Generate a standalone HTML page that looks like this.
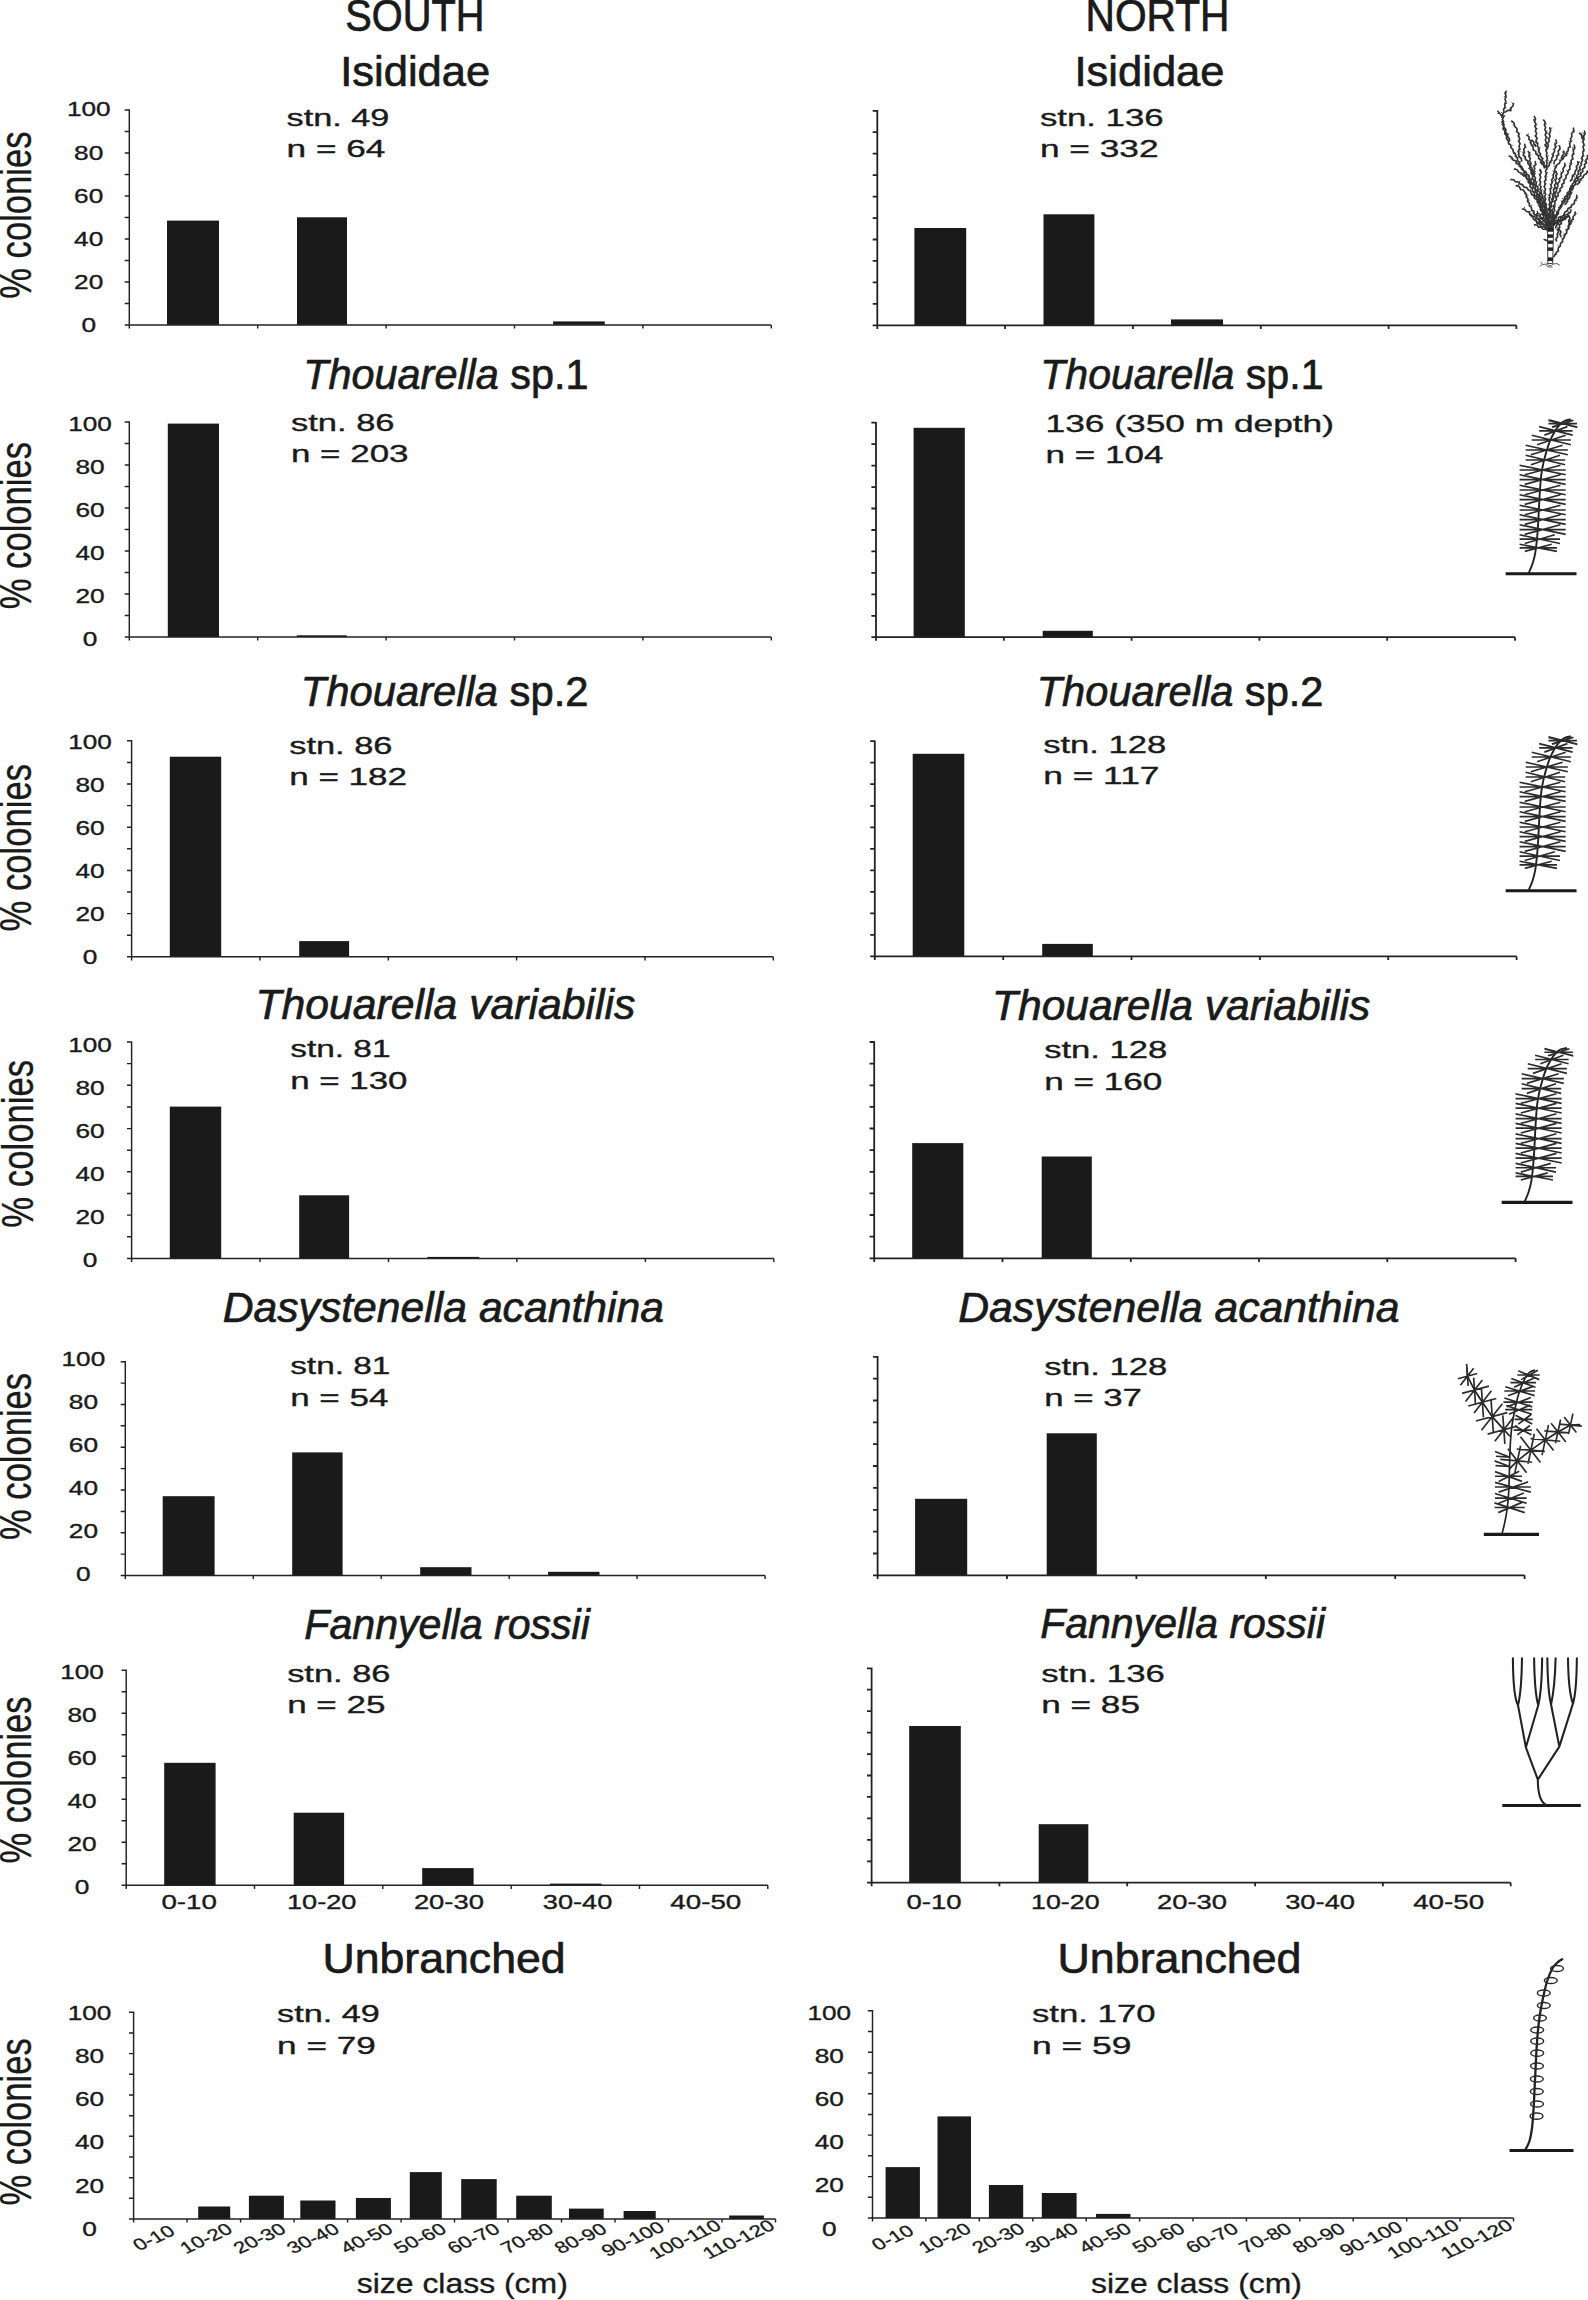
<!DOCTYPE html>
<html lang="en"><head><meta charset="utf-8"><title>Size class distributions</title>
<style>
html,body{margin:0;padding:0;background:#fff}
body{width:1588px;height:2300px;overflow:hidden;position:relative}
svg{position:absolute;left:0;top:0;display:block}
text{font-family:'Liberation Sans', sans-serif;stroke:#1a1a1a;stroke-width:0.35px;stroke-linejoin:round}
</style></head><body>
<svg width="1588" height="2300" viewBox="0 0 1588 2300">
<rect width="1588" height="2300" fill="#fff"/>
<rect x="167.0" y="220.6" width="52.0" height="104.3" fill="#1a1a1a"/>
<rect x="297.0" y="217.3" width="50.0" height="107.6" fill="#1a1a1a"/>
<rect x="553.1" y="321.4" width="51.7" height="3.5" fill="#1a1a1a"/>
<path d="M129.3 109.2V324.9H771.3M124.7 109.9H129.3M124.7 131.4H129.3M124.7 152.9H129.3M124.7 174.4H129.3M124.7 195.9H129.3M124.7 217.4H129.3M124.7 238.9H129.3M124.7 260.4H129.3M124.7 281.9H129.3M124.7 303.4H129.3M124.7 324.9H129.3M129.3 324.9v3.6M257.7 324.9v3.6M386.1 324.9v3.6M514.5 324.9v3.6M642.9 324.9v3.6M771.3 324.9v3.6" fill="none" stroke="#222" stroke-width="1.45"/>
<text x="88.7" y="116.4" font-size="19.7" text-anchor="middle" textLength="43.6" lengthAdjust="spacingAndGlyphs" fill="#1a1a1a">100</text>
<text x="88.7" y="159.6" font-size="19.7" text-anchor="middle" textLength="29.2" lengthAdjust="spacingAndGlyphs" fill="#1a1a1a">80</text>
<text x="88.7" y="202.8" font-size="19.7" text-anchor="middle" textLength="29.2" lengthAdjust="spacingAndGlyphs" fill="#1a1a1a">60</text>
<text x="88.7" y="246.0" font-size="19.7" text-anchor="middle" textLength="29.2" lengthAdjust="spacingAndGlyphs" fill="#1a1a1a">40</text>
<text x="88.7" y="289.2" font-size="19.7" text-anchor="middle" textLength="29.2" lengthAdjust="spacingAndGlyphs" fill="#1a1a1a">20</text>
<text x="88.7" y="332.4" font-size="19.7" text-anchor="middle" textLength="14.6" lengthAdjust="spacingAndGlyphs" fill="#1a1a1a">0</text>
<text x="31.0" y="298.8" font-size="44" textLength="167.4" lengthAdjust="spacingAndGlyphs" transform="rotate(-90 31.0 298.8)" fill="#1a1a1a">% colonies</text>
<rect x="167.8" y="423.6" width="51.2" height="213.4" fill="#1a1a1a"/>
<rect x="296.7" y="635.3" width="50.1" height="1.7" fill="#1a1a1a"/>
<path d="M129.3 421.3V637.0H771.3M124.7 422.0H129.3M124.7 443.5H129.3M124.7 465.0H129.3M124.7 486.5H129.3M124.7 508.0H129.3M124.7 529.5H129.3M124.7 551.0H129.3M124.7 572.5H129.3M124.7 594.0H129.3M124.7 615.5H129.3M124.7 637.0H129.3M129.3 637.0v3.6M257.7 637.0v3.6M386.1 637.0v3.6M514.5 637.0v3.6M642.9 637.0v3.6M771.3 637.0v3.6" fill="none" stroke="#222" stroke-width="1.45"/>
<text x="90.0" y="430.9" font-size="19.7" text-anchor="middle" textLength="43.6" lengthAdjust="spacingAndGlyphs" fill="#1a1a1a">100</text>
<text x="90.0" y="474.0" font-size="19.7" text-anchor="middle" textLength="29.2" lengthAdjust="spacingAndGlyphs" fill="#1a1a1a">80</text>
<text x="90.0" y="517.0" font-size="19.7" text-anchor="middle" textLength="29.2" lengthAdjust="spacingAndGlyphs" fill="#1a1a1a">60</text>
<text x="90.0" y="560.1" font-size="19.7" text-anchor="middle" textLength="29.2" lengthAdjust="spacingAndGlyphs" fill="#1a1a1a">40</text>
<text x="90.0" y="603.2" font-size="19.7" text-anchor="middle" textLength="29.2" lengthAdjust="spacingAndGlyphs" fill="#1a1a1a">20</text>
<text x="90.0" y="646.2" font-size="19.7" text-anchor="middle" textLength="14.6" lengthAdjust="spacingAndGlyphs" fill="#1a1a1a">0</text>
<text x="31.3" y="609.3" font-size="44" textLength="167.4" lengthAdjust="spacingAndGlyphs" transform="rotate(-90 31.3 609.3)" fill="#1a1a1a">% colonies</text>
<rect x="169.8" y="756.7" width="51.4" height="200.1" fill="#1a1a1a"/>
<rect x="299.2" y="941.1" width="49.9" height="15.7" fill="#1a1a1a"/>
<path d="M131.6 740.1V956.8H773.3M127.0 740.8H131.6M127.0 762.4H131.6M127.0 784.0H131.6M127.0 805.6H131.6M127.0 827.2H131.6M127.0 848.8H131.6M127.0 870.4H131.6M127.0 892.0H131.6M127.0 913.6H131.6M127.0 935.2H131.6M127.0 956.8H131.6M131.6 956.8v3.6M259.9 956.8v3.6M388.3 956.8v3.6M516.6 956.8v3.6M645.0 956.8v3.6M773.3 956.8v3.6" fill="none" stroke="#222" stroke-width="1.45"/>
<text x="90.0" y="749.2" font-size="19.7" text-anchor="middle" textLength="43.6" lengthAdjust="spacingAndGlyphs" fill="#1a1a1a">100</text>
<text x="90.0" y="792.2" font-size="19.7" text-anchor="middle" textLength="29.2" lengthAdjust="spacingAndGlyphs" fill="#1a1a1a">80</text>
<text x="90.0" y="835.2" font-size="19.7" text-anchor="middle" textLength="29.2" lengthAdjust="spacingAndGlyphs" fill="#1a1a1a">60</text>
<text x="90.0" y="878.3" font-size="19.7" text-anchor="middle" textLength="29.2" lengthAdjust="spacingAndGlyphs" fill="#1a1a1a">40</text>
<text x="90.0" y="921.3" font-size="19.7" text-anchor="middle" textLength="29.2" lengthAdjust="spacingAndGlyphs" fill="#1a1a1a">20</text>
<text x="90.0" y="964.3" font-size="19.7" text-anchor="middle" textLength="14.6" lengthAdjust="spacingAndGlyphs" fill="#1a1a1a">0</text>
<text x="31.3" y="931.4" font-size="44" textLength="167.4" lengthAdjust="spacingAndGlyphs" transform="rotate(-90 31.3 931.4)" fill="#1a1a1a">% colonies</text>
<rect x="169.8" y="1106.6" width="51.4" height="151.8" fill="#1a1a1a"/>
<rect x="299.2" y="1195.3" width="49.9" height="63.1" fill="#1a1a1a"/>
<rect x="427.3" y="1256.9" width="52.0" height="1.5" fill="#1a1a1a"/>
<path d="M131.6 1041.3V1258.4H773.8M127.0 1042.0H131.6M127.0 1063.6H131.6M127.0 1085.3H131.6M127.0 1106.9H131.6M127.0 1128.6H131.6M127.0 1150.2H131.6M127.0 1171.8H131.6M127.0 1193.5H131.6M127.0 1215.1H131.6M127.0 1236.8H131.6M127.0 1258.4H131.6M131.6 1258.4v3.6M260.0 1258.4v3.6M388.5 1258.4v3.6M516.9 1258.4v3.6M645.4 1258.4v3.6M773.8 1258.4v3.6" fill="none" stroke="#222" stroke-width="1.45"/>
<text x="90.0" y="1051.7" font-size="19.7" text-anchor="middle" textLength="43.6" lengthAdjust="spacingAndGlyphs" fill="#1a1a1a">100</text>
<text x="90.0" y="1094.7" font-size="19.7" text-anchor="middle" textLength="29.2" lengthAdjust="spacingAndGlyphs" fill="#1a1a1a">80</text>
<text x="90.0" y="1137.8" font-size="19.7" text-anchor="middle" textLength="29.2" lengthAdjust="spacingAndGlyphs" fill="#1a1a1a">60</text>
<text x="90.0" y="1180.8" font-size="19.7" text-anchor="middle" textLength="29.2" lengthAdjust="spacingAndGlyphs" fill="#1a1a1a">40</text>
<text x="90.0" y="1223.9" font-size="19.7" text-anchor="middle" textLength="29.2" lengthAdjust="spacingAndGlyphs" fill="#1a1a1a">20</text>
<text x="90.0" y="1266.9" font-size="19.7" text-anchor="middle" textLength="14.6" lengthAdjust="spacingAndGlyphs" fill="#1a1a1a">0</text>
<text x="32.7" y="1227.7" font-size="44" textLength="167.9" lengthAdjust="spacingAndGlyphs" transform="rotate(-90 32.7 1227.7)" fill="#1a1a1a">% colonies</text>
<rect x="162.7" y="1496.2" width="51.9" height="79.3" fill="#1a1a1a"/>
<rect x="292.2" y="1452.4" width="50.4" height="123.1" fill="#1a1a1a"/>
<rect x="420.2" y="1567.2" width="51.3" height="8.3" fill="#1a1a1a"/>
<rect x="548.1" y="1571.8" width="51.4" height="3.7" fill="#1a1a1a"/>
<path d="M125.3 1361.0V1575.5H765.1M120.7 1361.7H125.3M120.7 1383.1H125.3M120.7 1404.5H125.3M120.7 1425.8H125.3M120.7 1447.2H125.3M120.7 1468.6H125.3M120.7 1490.0H125.3M120.7 1511.4H125.3M120.7 1532.7H125.3M120.7 1554.1H125.3M120.7 1575.5H125.3M125.3 1575.5v3.6M253.3 1575.5v3.6M381.2 1575.5v3.6M509.2 1575.5v3.6M637.1 1575.5v3.6M765.1 1575.5v3.6" fill="none" stroke="#222" stroke-width="1.45"/>
<text x="83.4" y="1365.8" font-size="19.7" text-anchor="middle" textLength="43.6" lengthAdjust="spacingAndGlyphs" fill="#1a1a1a">100</text>
<text x="83.4" y="1408.9" font-size="19.7" text-anchor="middle" textLength="29.2" lengthAdjust="spacingAndGlyphs" fill="#1a1a1a">80</text>
<text x="83.4" y="1452.0" font-size="19.7" text-anchor="middle" textLength="29.2" lengthAdjust="spacingAndGlyphs" fill="#1a1a1a">60</text>
<text x="83.4" y="1495.1" font-size="19.7" text-anchor="middle" textLength="29.2" lengthAdjust="spacingAndGlyphs" fill="#1a1a1a">40</text>
<text x="83.4" y="1538.2" font-size="19.7" text-anchor="middle" textLength="29.2" lengthAdjust="spacingAndGlyphs" fill="#1a1a1a">20</text>
<text x="83.4" y="1581.3" font-size="19.7" text-anchor="middle" textLength="14.6" lengthAdjust="spacingAndGlyphs" fill="#1a1a1a">0</text>
<text x="31.3" y="1539.9" font-size="44" textLength="166.9" lengthAdjust="spacingAndGlyphs" transform="rotate(-90 31.3 1539.9)" fill="#1a1a1a">% colonies</text>
<rect x="164.2" y="1762.8" width="51.4" height="122.5" fill="#1a1a1a"/>
<rect x="293.7" y="1812.7" width="50.4" height="72.6" fill="#1a1a1a"/>
<rect x="422.2" y="1868.1" width="51.4" height="17.2" fill="#1a1a1a"/>
<rect x="550.0" y="1883.6" width="51.5" height="1.7" fill="#1a1a1a"/>
<path d="M126.2 1669.5V1885.3H767.8M121.6 1670.2H126.2M121.6 1691.7H126.2M121.6 1713.2H126.2M121.6 1734.7H126.2M121.6 1756.2H126.2M121.6 1777.8H126.2M121.6 1799.3H126.2M121.6 1820.8H126.2M121.6 1842.3H126.2M121.6 1863.8H126.2M121.6 1885.3H126.2M126.2 1885.3v3.6M254.5 1885.3v3.6M382.8 1885.3v3.6M511.2 1885.3v3.6M639.5 1885.3v3.6M767.8 1885.3v3.6" fill="none" stroke="#222" stroke-width="1.45"/>
<text x="82.1" y="1679.0" font-size="19.7" text-anchor="middle" textLength="43.6" lengthAdjust="spacingAndGlyphs" fill="#1a1a1a">100</text>
<text x="82.1" y="1722.1" font-size="19.7" text-anchor="middle" textLength="29.2" lengthAdjust="spacingAndGlyphs" fill="#1a1a1a">80</text>
<text x="82.1" y="1765.1" font-size="19.7" text-anchor="middle" textLength="29.2" lengthAdjust="spacingAndGlyphs" fill="#1a1a1a">60</text>
<text x="82.1" y="1808.2" font-size="19.7" text-anchor="middle" textLength="29.2" lengthAdjust="spacingAndGlyphs" fill="#1a1a1a">40</text>
<text x="82.1" y="1851.2" font-size="19.7" text-anchor="middle" textLength="29.2" lengthAdjust="spacingAndGlyphs" fill="#1a1a1a">20</text>
<text x="82.1" y="1894.3" font-size="19.7" text-anchor="middle" textLength="14.6" lengthAdjust="spacingAndGlyphs" fill="#1a1a1a">0</text>
<text x="31.3" y="1863.5" font-size="44" textLength="167.1" lengthAdjust="spacingAndGlyphs" transform="rotate(-90 31.3 1863.5)" fill="#1a1a1a">% colonies</text>
<text x="189.1" y="1909.4" font-size="19.7" text-anchor="middle" textLength="55.4" lengthAdjust="spacingAndGlyphs" fill="#1a1a1a">0-10</text>
<text x="321.7" y="1909.4" font-size="19.7" text-anchor="middle" textLength="69.5" lengthAdjust="spacingAndGlyphs" fill="#1a1a1a">10-20</text>
<text x="448.9" y="1909.4" font-size="19.7" text-anchor="middle" textLength="70.0" lengthAdjust="spacingAndGlyphs" fill="#1a1a1a">20-30</text>
<text x="577.6" y="1909.4" font-size="19.7" text-anchor="middle" textLength="69.5" lengthAdjust="spacingAndGlyphs" fill="#1a1a1a">30-40</text>
<text x="705.8" y="1909.4" font-size="19.7" text-anchor="middle" textLength="71.0" lengthAdjust="spacingAndGlyphs" fill="#1a1a1a">40-50</text>
<rect x="198.2" y="2206.5" width="32.0" height="12.5" fill="#1a1a1a"/>
<rect x="248.9" y="2195.7" width="35.0" height="23.3" fill="#1a1a1a"/>
<rect x="300.3" y="2200.5" width="35.2" height="18.5" fill="#1a1a1a"/>
<rect x="355.9" y="2198.0" width="35.0" height="21.0" fill="#1a1a1a"/>
<rect x="409.8" y="2172.1" width="32.0" height="46.9" fill="#1a1a1a"/>
<rect x="461.2" y="2179.1" width="35.5" height="39.9" fill="#1a1a1a"/>
<rect x="516.2" y="2195.7" width="35.6" height="23.3" fill="#1a1a1a"/>
<rect x="569.0" y="2208.6" width="34.7" height="10.4" fill="#1a1a1a"/>
<rect x="623.6" y="2211.0" width="32.1" height="8.0" fill="#1a1a1a"/>
<rect x="729.2" y="2215.5" width="34.7" height="3.5" fill="#1a1a1a"/>
<path d="M133.6 2011.6V2219.0H775.5M129.0 2012.3H133.6M129.0 2033.0H133.6M129.0 2053.6H133.6M129.0 2074.3H133.6M129.0 2095.0H133.6M129.0 2115.7H133.6M129.0 2136.3H133.6M129.0 2157.0H133.6M129.0 2177.7H133.6M129.0 2198.3H133.6M129.0 2219.0H133.6M133.6 2219.0v3.6M187.1 2219.0v3.6M240.6 2219.0v3.6M294.1 2219.0v3.6M347.6 2219.0v3.6M401.1 2219.0v3.6M454.5 2219.0v3.6M508.0 2219.0v3.6M561.5 2219.0v3.6M615.0 2219.0v3.6M668.5 2219.0v3.6M722.0 2219.0v3.6M775.5 2219.0v3.6" fill="none" stroke="#222" stroke-width="1.45"/>
<text x="89.6" y="2020.2" font-size="19.7" text-anchor="middle" textLength="43.6" lengthAdjust="spacingAndGlyphs" fill="#1a1a1a">100</text>
<text x="89.6" y="2063.3" font-size="19.7" text-anchor="middle" textLength="29.2" lengthAdjust="spacingAndGlyphs" fill="#1a1a1a">80</text>
<text x="89.6" y="2106.4" font-size="19.7" text-anchor="middle" textLength="29.2" lengthAdjust="spacingAndGlyphs" fill="#1a1a1a">60</text>
<text x="89.6" y="2149.4" font-size="19.7" text-anchor="middle" textLength="29.2" lengthAdjust="spacingAndGlyphs" fill="#1a1a1a">40</text>
<text x="89.6" y="2192.5" font-size="19.7" text-anchor="middle" textLength="29.2" lengthAdjust="spacingAndGlyphs" fill="#1a1a1a">20</text>
<text x="89.6" y="2235.6" font-size="19.7" text-anchor="middle" textLength="14.6" lengthAdjust="spacingAndGlyphs" fill="#1a1a1a">0</text>
<text x="31.3" y="2205.5" font-size="44" textLength="167.3" lengthAdjust="spacingAndGlyphs" transform="rotate(-90 31.3 2205.5)" fill="#1a1a1a">% colonies</text>
<rect x="914.4" y="228.0" width="51.8" height="97.3" fill="#1a1a1a"/>
<rect x="1043.5" y="214.3" width="50.9" height="111.0" fill="#1a1a1a"/>
<rect x="1171.0" y="319.4" width="52.0" height="5.9" fill="#1a1a1a"/>
<path d="M877.3 110.1V325.3H1516.4M872.7 110.8H877.3M872.7 132.2H877.3M872.7 153.7H877.3M872.7 175.1H877.3M872.7 196.6H877.3M872.7 218.1H877.3M872.7 239.5H877.3M872.7 260.9H877.3M872.7 282.4H877.3M872.7 303.9H877.3M872.7 325.3H877.3M877.3 325.3v3.6M1005.1 325.3v3.6M1132.9 325.3v3.6M1260.8 325.3v3.6M1388.6 325.3v3.6M1516.4 325.3v3.6" fill="none" stroke="#222" stroke-width="1.8"/>
<rect x="913.6" y="427.8" width="51.2" height="209.4" fill="#1a1a1a"/>
<rect x="1042.7" y="630.8" width="50.1" height="6.4" fill="#1a1a1a"/>
<path d="M876.0 422.0V637.2H1515.0M871.4 422.7H876.0M871.4 444.1H876.0M871.4 465.6H876.0M871.4 487.1H876.0M871.4 508.5H876.0M871.4 530.0H876.0M871.4 551.4H876.0M871.4 572.9H876.0M871.4 594.3H876.0M871.4 615.8H876.0M871.4 637.2H876.0M876.0 637.2v3.6M1003.8 637.2v3.6M1131.6 637.2v3.6M1259.4 637.2v3.6M1387.2 637.2v3.6M1515.0 637.2v3.6" fill="none" stroke="#222" stroke-width="1.8"/>
<rect x="912.7" y="753.8" width="51.6" height="202.6" fill="#1a1a1a"/>
<rect x="1042.2" y="943.9" width="50.6" height="12.5" fill="#1a1a1a"/>
<path d="M874.8 740.5V956.4H1516.6M870.2 741.2H874.8M870.2 762.7H874.8M870.2 784.2H874.8M870.2 805.8H874.8M870.2 827.3H874.8M870.2 848.8H874.8M870.2 870.3H874.8M870.2 891.8H874.8M870.2 913.4H874.8M870.2 934.9H874.8M870.2 956.4H874.8M874.8 956.4v3.6M1003.2 956.4v3.6M1131.5 956.4v3.6M1259.9 956.4v3.6M1388.2 956.4v3.6M1516.6 956.4v3.6" fill="none" stroke="#222" stroke-width="1.8"/>
<rect x="912.2" y="1143.1" width="51.1" height="115.2" fill="#1a1a1a"/>
<rect x="1041.7" y="1156.5" width="50.1" height="101.8" fill="#1a1a1a"/>
<path d="M874.2 1041.3V1258.3H1515.6M869.6 1042.0H874.2M869.6 1063.6H874.2M869.6 1085.3H874.2M869.6 1106.9H874.2M869.6 1128.5H874.2M869.6 1150.2H874.2M869.6 1171.8H874.2M869.6 1193.4H874.2M869.6 1215.0H874.2M869.6 1236.7H874.2M869.6 1258.3H874.2M874.2 1258.3v3.6M1002.5 1258.3v3.6M1130.8 1258.3v3.6M1259.0 1258.3v3.6M1387.3 1258.3v3.6M1515.6 1258.3v3.6" fill="none" stroke="#222" stroke-width="1.8"/>
<rect x="915.1" y="1498.8" width="52.1" height="76.5" fill="#1a1a1a"/>
<rect x="1046.7" y="1433.3" width="50.1" height="142.0" fill="#1a1a1a"/>
<path d="M877.6 1356.1V1575.3H1524.6M873.0 1356.8H877.6M873.0 1378.6H877.6M873.0 1400.5H877.6M873.0 1422.3H877.6M873.0 1444.2H877.6M873.0 1466.0H877.6M873.0 1487.9H877.6M873.0 1509.8H877.6M873.0 1531.6H877.6M873.0 1553.5H877.6M873.0 1575.3H877.6M877.6 1575.3v3.6M1007.0 1575.3v3.6M1136.4 1575.3v3.6M1265.8 1575.3v3.6M1395.2 1575.3v3.6M1524.6 1575.3v3.6" fill="none" stroke="#222" stroke-width="1.8"/>
<rect x="909.2" y="1726.0" width="51.6" height="156.7" fill="#1a1a1a"/>
<rect x="1038.7" y="1824.2" width="49.6" height="58.5" fill="#1a1a1a"/>
<path d="M871.6 1667.6V1882.7H1510.7M867.0 1668.3H871.6M867.0 1689.7H871.6M867.0 1711.2H871.6M867.0 1732.6H871.6M867.0 1754.1H871.6M867.0 1775.5H871.6M867.0 1796.9H871.6M867.0 1818.4H871.6M867.0 1839.8H871.6M867.0 1861.3H871.6M867.0 1882.7H871.6M871.6 1882.7v3.6M999.4 1882.7v3.6M1127.2 1882.7v3.6M1255.1 1882.7v3.6M1382.9 1882.7v3.6M1510.7 1882.7v3.6" fill="none" stroke="#222" stroke-width="1.8"/>
<text x="934.0" y="1908.6" font-size="19.7" text-anchor="middle" textLength="55.1" lengthAdjust="spacingAndGlyphs" fill="#1a1a1a">0-10</text>
<text x="1065.3" y="1908.6" font-size="19.7" text-anchor="middle" textLength="68.5" lengthAdjust="spacingAndGlyphs" fill="#1a1a1a">10-20</text>
<text x="1192.0" y="1908.6" font-size="19.7" text-anchor="middle" textLength="70.0" lengthAdjust="spacingAndGlyphs" fill="#1a1a1a">20-30</text>
<text x="1320.1" y="1908.6" font-size="19.7" text-anchor="middle" textLength="69.9" lengthAdjust="spacingAndGlyphs" fill="#1a1a1a">30-40</text>
<text x="1448.7" y="1908.6" font-size="19.7" text-anchor="middle" textLength="71.0" lengthAdjust="spacingAndGlyphs" fill="#1a1a1a">40-50</text>
<rect x="885.6" y="2167.1" width="34.3" height="50.9" fill="#1a1a1a"/>
<rect x="937.5" y="2116.4" width="33.5" height="101.6" fill="#1a1a1a"/>
<rect x="988.9" y="2185.0" width="34.3" height="33.0" fill="#1a1a1a"/>
<rect x="1041.8" y="2193.0" width="34.8" height="25.0" fill="#1a1a1a"/>
<rect x="1096.0" y="2213.9" width="34.5" height="4.1" fill="#1a1a1a"/>
<path d="M872.5 2010.1V2218.0H1513.5M867.9 2010.8H872.5M867.9 2031.5H872.5M867.9 2052.2H872.5M867.9 2073.0H872.5M867.9 2093.7H872.5M867.9 2114.4H872.5M867.9 2135.1H872.5M867.9 2155.8H872.5M867.9 2176.6H872.5M867.9 2197.3H872.5M867.9 2218.0H872.5M872.5 2218.0v3.6M925.9 2218.0v3.6M979.3 2218.0v3.6M1032.8 2218.0v3.6M1086.2 2218.0v3.6M1139.6 2218.0v3.6M1193.0 2218.0v3.6M1246.4 2218.0v3.6M1299.8 2218.0v3.6M1353.2 2218.0v3.6M1406.7 2218.0v3.6M1460.1 2218.0v3.6M1513.5 2218.0v3.6" fill="none" stroke="#222" stroke-width="1.45"/>
<text x="829.3" y="2019.6" font-size="19.7" text-anchor="middle" textLength="43.6" lengthAdjust="spacingAndGlyphs" fill="#1a1a1a">100</text>
<text x="829.3" y="2062.8" font-size="19.7" text-anchor="middle" textLength="29.2" lengthAdjust="spacingAndGlyphs" fill="#1a1a1a">80</text>
<text x="829.3" y="2106.0" font-size="19.7" text-anchor="middle" textLength="29.2" lengthAdjust="spacingAndGlyphs" fill="#1a1a1a">60</text>
<text x="829.3" y="2149.2" font-size="19.7" text-anchor="middle" textLength="29.2" lengthAdjust="spacingAndGlyphs" fill="#1a1a1a">40</text>
<text x="829.3" y="2192.4" font-size="19.7" text-anchor="middle" textLength="29.2" lengthAdjust="spacingAndGlyphs" fill="#1a1a1a">20</text>
<text x="829.3" y="2235.6" font-size="19.7" text-anchor="middle" textLength="14.6" lengthAdjust="spacingAndGlyphs" fill="#1a1a1a">0</text>
<text transform="translate(157.7 2242.7) scale(1.36 1) rotate(-32)" x="0" y="0" font-size="16.3" text-anchor="middle" fill="#1a1a1a" style="stroke-width:0.3px">0-10</text>
<text transform="translate(210.0 2243.1) scale(1.36 1) rotate(-32)" x="0" y="0" font-size="16.3" text-anchor="middle" fill="#1a1a1a" style="stroke-width:0.3px">10-20</text>
<text transform="translate(263.5 2243.1) scale(1.36 1) rotate(-32)" x="0" y="0" font-size="16.3" text-anchor="middle" fill="#1a1a1a" style="stroke-width:0.3px">20-30</text>
<text transform="translate(317.0 2243.1) scale(1.36 1) rotate(-32)" x="0" y="0" font-size="16.3" text-anchor="middle" fill="#1a1a1a" style="stroke-width:0.3px">30-40</text>
<text transform="translate(370.5 2243.1) scale(1.36 1) rotate(-32)" x="0" y="0" font-size="16.3" text-anchor="middle" fill="#1a1a1a" style="stroke-width:0.3px">40-50</text>
<text transform="translate(424.0 2243.1) scale(1.36 1) rotate(-32)" x="0" y="0" font-size="16.3" text-anchor="middle" fill="#1a1a1a" style="stroke-width:0.3px">50-60</text>
<text transform="translate(477.4 2243.1) scale(1.36 1) rotate(-32)" x="0" y="0" font-size="16.3" text-anchor="middle" fill="#1a1a1a" style="stroke-width:0.3px">60-70</text>
<text transform="translate(530.9 2243.1) scale(1.36 1) rotate(-32)" x="0" y="0" font-size="16.3" text-anchor="middle" fill="#1a1a1a" style="stroke-width:0.3px">70-80</text>
<text transform="translate(584.4 2243.1) scale(1.36 1) rotate(-32)" x="0" y="0" font-size="16.3" text-anchor="middle" fill="#1a1a1a" style="stroke-width:0.3px">80-90</text>
<text transform="translate(636.7 2243.6) scale(1.36 1) rotate(-32)" x="0" y="0" font-size="16.3" text-anchor="middle" fill="#1a1a1a" style="stroke-width:0.3px">90-100</text>
<text transform="translate(688.9 2244.0) scale(1.36 1) rotate(-32)" x="0" y="0" font-size="16.3" text-anchor="middle" fill="#1a1a1a" style="stroke-width:0.3px">100-110</text>
<text transform="translate(742.4 2244.0) scale(1.36 1) rotate(-32)" x="0" y="0" font-size="16.3" text-anchor="middle" fill="#1a1a1a" style="stroke-width:0.3px">110-120</text>
<text transform="translate(896.6 2242.4) scale(1.36 1) rotate(-32)" x="0" y="0" font-size="16.3" text-anchor="middle" fill="#1a1a1a" style="stroke-width:0.3px">0-10</text>
<text transform="translate(948.8 2242.8) scale(1.36 1) rotate(-32)" x="0" y="0" font-size="16.3" text-anchor="middle" fill="#1a1a1a" style="stroke-width:0.3px">10-20</text>
<text transform="translate(1002.2 2242.8) scale(1.36 1) rotate(-32)" x="0" y="0" font-size="16.3" text-anchor="middle" fill="#1a1a1a" style="stroke-width:0.3px">20-30</text>
<text transform="translate(1055.6 2242.8) scale(1.36 1) rotate(-32)" x="0" y="0" font-size="16.3" text-anchor="middle" fill="#1a1a1a" style="stroke-width:0.3px">30-40</text>
<text transform="translate(1109.0 2242.8) scale(1.36 1) rotate(-32)" x="0" y="0" font-size="16.3" text-anchor="middle" fill="#1a1a1a" style="stroke-width:0.3px">40-50</text>
<text transform="translate(1162.4 2242.8) scale(1.36 1) rotate(-32)" x="0" y="0" font-size="16.3" text-anchor="middle" fill="#1a1a1a" style="stroke-width:0.3px">50-60</text>
<text transform="translate(1215.9 2242.8) scale(1.36 1) rotate(-32)" x="0" y="0" font-size="16.3" text-anchor="middle" fill="#1a1a1a" style="stroke-width:0.3px">60-70</text>
<text transform="translate(1269.3 2242.8) scale(1.36 1) rotate(-32)" x="0" y="0" font-size="16.3" text-anchor="middle" fill="#1a1a1a" style="stroke-width:0.3px">70-80</text>
<text transform="translate(1322.7 2242.8) scale(1.36 1) rotate(-32)" x="0" y="0" font-size="16.3" text-anchor="middle" fill="#1a1a1a" style="stroke-width:0.3px">80-90</text>
<text transform="translate(1374.9 2243.3) scale(1.36 1) rotate(-32)" x="0" y="0" font-size="16.3" text-anchor="middle" fill="#1a1a1a" style="stroke-width:0.3px">90-100</text>
<text transform="translate(1427.0 2243.8) scale(1.36 1) rotate(-32)" x="0" y="0" font-size="16.3" text-anchor="middle" fill="#1a1a1a" style="stroke-width:0.3px">100-110</text>
<text transform="translate(1480.4 2243.8) scale(1.36 1) rotate(-32)" x="0" y="0" font-size="16.3" text-anchor="middle" fill="#1a1a1a" style="stroke-width:0.3px">110-120</text>
<text x="345.3" y="31.2" font-size="43.5" textLength="139.2" lengthAdjust="spacingAndGlyphs" fill="#1a1a1a" style="stroke-width:0.7px">SOUTH</text>
<text x="340.2" y="85.6" font-size="42.5" textLength="150.0" lengthAdjust="spacingAndGlyphs" fill="#1a1a1a" style="stroke-width:0.7px">Isididae</text>
<text x="303.3" y="388.9" font-size="42.5" textLength="285.2" lengthAdjust="spacingAndGlyphs" fill="#1a1a1a" style="stroke-width:0.7px"><tspan font-style="italic">Thouarella</tspan> sp.1</text>
<text x="300.8" y="706.3" font-size="42.5" textLength="287.7" lengthAdjust="spacingAndGlyphs" fill="#1a1a1a" style="stroke-width:0.7px"><tspan font-style="italic">Thouarella</tspan> sp.2</text>
<text x="255.5" y="1019.4" font-size="42.5" textLength="379.8" lengthAdjust="spacingAndGlyphs" fill="#1a1a1a" style="stroke-width:0.7px"><tspan font-style="italic">Thouarella variabilis</tspan></text>
<text x="222.7" y="1321.9" font-size="42.5" textLength="441.3" lengthAdjust="spacingAndGlyphs" fill="#1a1a1a" style="stroke-width:0.7px"><tspan font-style="italic">Dasystenella acanthina</tspan></text>
<text x="304.3" y="1638.9" font-size="42.5" textLength="285.6" lengthAdjust="spacingAndGlyphs" fill="#1a1a1a" style="stroke-width:0.7px"><tspan font-style="italic">Fannyella rossii</tspan></text>
<text x="322.4" y="1972.9" font-size="42.5" textLength="243.3" lengthAdjust="spacingAndGlyphs" fill="#1a1a1a" style="stroke-width:0.7px">Unbranched</text>
<text x="1085.5" y="31.2" font-size="43.5" textLength="144.0" lengthAdjust="spacingAndGlyphs" fill="#1a1a1a" style="stroke-width:0.7px">NORTH</text>
<text x="1074.5" y="85.6" font-size="42.5" textLength="150.0" lengthAdjust="spacingAndGlyphs" fill="#1a1a1a" style="stroke-width:0.7px">Isididae</text>
<text x="1040.2" y="388.6" font-size="42.5" textLength="283.3" lengthAdjust="spacingAndGlyphs" fill="#1a1a1a" style="stroke-width:0.7px"><tspan font-style="italic">Thouarella</tspan> sp.1</text>
<text x="1036.7" y="706.2" font-size="42.5" textLength="286.8" lengthAdjust="spacingAndGlyphs" fill="#1a1a1a" style="stroke-width:0.7px"><tspan font-style="italic">Thouarella</tspan> sp.2</text>
<text x="992.0" y="1019.6" font-size="42.5" textLength="378.2" lengthAdjust="spacingAndGlyphs" fill="#1a1a1a" style="stroke-width:0.7px"><tspan font-style="italic">Thouarella variabilis</tspan></text>
<text x="958.3" y="1321.6" font-size="42.5" textLength="441.2" lengthAdjust="spacingAndGlyphs" fill="#1a1a1a" style="stroke-width:0.7px"><tspan font-style="italic">Dasystenella acanthina</tspan></text>
<text x="1040.2" y="1638.1" font-size="42.5" textLength="284.9" lengthAdjust="spacingAndGlyphs" fill="#1a1a1a" style="stroke-width:0.7px"><tspan font-style="italic">Fannyella rossii</tspan></text>
<text x="1057.5" y="1972.9" font-size="42.5" textLength="244.0" lengthAdjust="spacingAndGlyphs" fill="#1a1a1a" style="stroke-width:0.7px">Unbranched</text>
<text x="286.6" y="125.5" font-size="24" textLength="102.8" lengthAdjust="spacingAndGlyphs" fill="#1a1a1a">stn. 49</text>
<text x="286.6" y="156.9" font-size="24" textLength="98.8" lengthAdjust="spacingAndGlyphs" fill="#1a1a1a">n = 64</text>
<text x="291.0" y="430.7" font-size="24" textLength="103.5" lengthAdjust="spacingAndGlyphs" fill="#1a1a1a">stn. 86</text>
<text x="291.0" y="462.3" font-size="24" textLength="117.5" lengthAdjust="spacingAndGlyphs" fill="#1a1a1a">n = 203</text>
<text x="289.2" y="753.7" font-size="24" textLength="103.3" lengthAdjust="spacingAndGlyphs" fill="#1a1a1a">stn. 86</text>
<text x="289.2" y="785.0" font-size="24" textLength="117.8" lengthAdjust="spacingAndGlyphs" fill="#1a1a1a">n = 182</text>
<text x="290.2" y="1057.2" font-size="24" textLength="100.3" lengthAdjust="spacingAndGlyphs" fill="#1a1a1a">stn. 81</text>
<text x="290.2" y="1089.0" font-size="24" textLength="117.3" lengthAdjust="spacingAndGlyphs" fill="#1a1a1a">n = 130</text>
<text x="290.2" y="1374.3" font-size="24" textLength="100.2" lengthAdjust="spacingAndGlyphs" fill="#1a1a1a">stn. 81</text>
<text x="290.2" y="1406.0" font-size="24" textLength="98.2" lengthAdjust="spacingAndGlyphs" fill="#1a1a1a">n = 54</text>
<text x="287.2" y="1682.2" font-size="24" textLength="103.2" lengthAdjust="spacingAndGlyphs" fill="#1a1a1a">stn. 86</text>
<text x="287.2" y="1713.4" font-size="24" textLength="98.2" lengthAdjust="spacingAndGlyphs" fill="#1a1a1a">n = 25</text>
<text x="277.1" y="2022.3" font-size="24" textLength="102.7" lengthAdjust="spacingAndGlyphs" fill="#1a1a1a">stn. 49</text>
<text x="277.1" y="2053.5" font-size="24" textLength="98.7" lengthAdjust="spacingAndGlyphs" fill="#1a1a1a">n = 79</text>
<text x="1040.0" y="125.5" font-size="24" textLength="123.5" lengthAdjust="spacingAndGlyphs" fill="#1a1a1a">stn. 136</text>
<text x="1040.0" y="156.9" font-size="24" textLength="118.5" lengthAdjust="spacingAndGlyphs" fill="#1a1a1a">n = 332</text>
<text x="1045.6" y="431.8" font-size="24" textLength="288.4" lengthAdjust="spacingAndGlyphs" fill="#1a1a1a">136 (350 m depth)</text>
<text x="1045.6" y="462.6" font-size="24" textLength="117.9" lengthAdjust="spacingAndGlyphs" fill="#1a1a1a">n = 104</text>
<text x="1043.2" y="753.3" font-size="24" textLength="123.1" lengthAdjust="spacingAndGlyphs" fill="#1a1a1a">stn. 128</text>
<text x="1043.2" y="784.0" font-size="24" textLength="116.3" lengthAdjust="spacingAndGlyphs" fill="#1a1a1a">n = 117</text>
<text x="1044.2" y="1057.8" font-size="24" textLength="123.1" lengthAdjust="spacingAndGlyphs" fill="#1a1a1a">stn. 128</text>
<text x="1044.2" y="1089.5" font-size="24" textLength="118.1" lengthAdjust="spacingAndGlyphs" fill="#1a1a1a">n = 160</text>
<text x="1044.2" y="1374.7" font-size="24" textLength="123.1" lengthAdjust="spacingAndGlyphs" fill="#1a1a1a">stn. 128</text>
<text x="1044.2" y="1405.5" font-size="24" textLength="97.7" lengthAdjust="spacingAndGlyphs" fill="#1a1a1a">n = 37</text>
<text x="1041.2" y="1682.3" font-size="24" textLength="123.6" lengthAdjust="spacingAndGlyphs" fill="#1a1a1a">stn. 136</text>
<text x="1041.2" y="1713.0" font-size="24" textLength="98.8" lengthAdjust="spacingAndGlyphs" fill="#1a1a1a">n = 85</text>
<text x="1032.0" y="2022.3" font-size="24" textLength="123.5" lengthAdjust="spacingAndGlyphs" fill="#1a1a1a">stn. 170</text>
<text x="1032.0" y="2053.5" font-size="24" textLength="99.5" lengthAdjust="spacingAndGlyphs" fill="#1a1a1a">n = 59</text>
<text x="356.8" y="2292.8" font-size="28.5" textLength="211.0" lengthAdjust="spacingAndGlyphs" fill="#1a1a1a">size class (cm)</text>
<text x="1091.0" y="2292.8" font-size="28.5" textLength="211.0" lengthAdjust="spacingAndGlyphs" fill="#1a1a1a">size class (cm)</text>
<g transform="translate(1480 80) scale(0.08696)" fill="none" stroke="#333" stroke-linecap="round" stroke-linejoin="round">
<path d="M805 1647 L783 1627 L781 1597 L758 1577 L756 1547 L732 1528 L729 1498 L707 1478 L704 1448 L681 1428 L678 1398 L656 1377 L652 1347 L627 1329 L625 1298 L603 1277 L602 1247 L577 1228 L578 1197 L555 1178 L555 1147 L532 1127 L531 1097 L507 1077 L505 1048 L483 1027 L480 997 L456 978 L455 948 L432 928 L431 897 L407 878 L406 847 L382 827 L378 798 L355 778 L353 747 L328 728 L325 698 L304 674 L306 642 L285 618 L287 586 L263 560 L274 533 L261 507 L272 480 L257 454 L270 426 L256 399 L277 372 L271 339 L289 311 L283 280 L297 250 L288 220 L301 190 L291 160 L300 130 M296 367 L321 348 L355 352 L355 321 L379 299 L385 270 M282 414 L252 417 L237 396 L205 360 M255 482 L276 508 L274 542 L297 568 L293 603 L317 622 L315 652 L336 673 L340 700 M366 472 L392 497 L399 533 L425 558 L425 592 L447 618 L445 650 L457 677 L446 705 L461 732 L450 759 L456 791 L439 819 L447 847 L447 880 L473 900 L480 930 M336 874 L366 888 L379 919 L412 930 L424 962 L454 976 L464 1004 L491 1016 L500 1044 L528 1055 L538 1084 L564 1098 L566 1128 L588 1149 L588 1180 L613 1200 L611 1231 L634 1252 L634 1283 L656 1302 L655 1332 L677 1352 L673 1383 L697 1402 L693 1433 L716 1453 L714 1482 L737 1506 L738 1539 L761 1562 L763 1594 L780 1620 M397 1024 L428 1033 L445 1060 L475 1070 L493 1096 L524 1107 L536 1136 L564 1152 L574 1183 L600 1200 M358 1145 L388 1147 L407 1170 L438 1172 L457 1194 L489 1201 L505 1232 L539 1237 L555 1264 L582 1281 L592 1311 L619 1328 L627 1359 L656 1376 L658 1405 L680 1423 L682 1452 L707 1468 L710 1497 L733 1514 L740 1540 M416 1215 L450 1224 L465 1256 L499 1265 L515 1292 L534 1314 L531 1344 L551 1366 L546 1396 L566 1416 L568 1446 L591 1464 L594 1494 L620 1509 L620 1540 L645 1555 L652 1585 L681 1595 L690 1624 L717 1636 L730 1660 M488 1484 L516 1489 L534 1512 L565 1517 L574 1551 L606 1569 L616 1604 L646 1614 L654 1646 L686 1654 L698 1686 L732 1685 L758 1705 L790 1710 M627 1665 L657 1667 L673 1693 L703 1693 L724 1716 L756 1714 L780 1730 M625 420 L639 448 L626 477 L643 503 L631 533 L646 560 L637 588 L651 615 L640 644 L655 671 L642 702 L664 728 L660 762 L682 788 L675 822 L695 848 L695 877 L715 898 L713 928 L737 947 L735 977 L750 1000 M538 633 L563 652 L562 682 L585 702 L585 732 L609 763 L613 804 L641 821 L644 853 L672 871 L675 903 L702 924 L703 959 L730 980 L740 1010 M595 693 L618 711 L621 740 L640 760 M514 739 L520 771 L502 799 L511 831 L495 863 L521 882 L523 914 L550 932 L553 962 L574 986 L570 1018 L590 1042 L587 1073 L606 1098 L603 1131 L621 1159 L617 1192 L637 1219 L634 1252 L657 1272 L654 1302 L675 1323 L674 1352 L696 1373 L693 1403 L715 1423 L720 1450 M554 821 L570 847 L561 877 L578 903 L569 933 L587 958 L580 992 L601 1018 L596 1052 L610 1080 M734 461 L750 487 L740 517 L755 543 L746 573 L763 600 L749 630 L765 660 L750 690 L765 720 L753 750 L770 779 L757 810 L771 840 L763 870 L776 900 L763 930 L772 960 L759 990 L769 1020 L753 1049 L765 1081 L749 1109 L758 1141 L741 1169 L750 1200 L738 1229 L754 1257 L742 1286 L756 1314 L742 1343 L756 1371 L742 1402 L763 1427 L756 1458 L773 1485 L767 1516 L784 1542 L779 1572 L790 1600 M803 549 L812 584 L797 616 L806 651 L790 675 L796 703 L778 727 L786 755 L775 780 M872 689 L882 719 L862 744 L870 773 L855 798 L857 826 L838 848 L843 877 L825 898 L823 928 L798 947 L799 978 L780 1000 M915 759 L920 792 L899 818 L904 852 L885 878 L881 909 L857 930 L850 960 M1075 553 L1077 589 L1053 616 L1057 651 L1040 677 L1047 706 L1030 732 L1037 763 L1014 783 L1015 812 L994 833 L996 865 L966 880 L954 910 L925 926 L914 957 L886 973 L875 1001 L857 1029 L859 1061 L840 1089 L844 1121 L823 1149 L831 1179 L815 1206 L822 1237 L807 1263 L813 1294 L799 1321 L805 1350 L793 1378 L807 1406 L795 1433 L806 1461 L792 1489 L805 1517 L793 1544 L806 1572 L800 1600 M963 817 L966 849 L944 871 L940 900 M1202 588 L1209 621 L1189 648 L1197 680 L1183 710 L1196 740 L1184 770 L1195 801 L1181 829 L1187 861 L1171 889 L1180 921 L1165 948 L1166 977 L1146 998 L1152 1027 L1130 1048 L1134 1077 L1115 1097 L1112 1128 L1088 1147 L1085 1177 L1061 1197 L1058 1228 L1033 1246 L1032 1279 L1004 1297 L1000 1328 L973 1346 L970 1378 L945 1398 L943 1427 L922 1448 L922 1478 L899 1497 L899 1527 L877 1547 L876 1577 L860 1600 M1145 612 L1169 634 L1172 666 L1190 690 M1234 868 L1237 898 L1218 920 L1222 950 L1201 972 L1206 1003 L1181 1022 L1182 1053 L1157 1072 L1155 1103 L1129 1120 L1127 1151 L1102 1168 L1100 1199 L1076 1217 L1070 1250 L1041 1268 L1038 1302 L1010 1320 L1006 1354 L979 1372 L972 1404 L945 1421 L940 1454 L911 1471 L907 1503 L882 1525 L883 1559 L858 1581 L858 1615 L840 1640 M1236 1047 L1224 1077 L1195 1093 L1184 1123 L1154 1142 L1145 1177 L1120 1200 M1083 749 L1091 781 L1072 809 L1077 841 L1059 869 L1067 902 L1046 928 L1051 962 L1031 988 L1035 1022 L1012 1044 L1012 1076 L990 1098 L989 1129 L965 1150 L965 1182 L942 1201 L944 1232 L920 1250 L920 1280 L897 1299 L898 1329 L873 1348 L879 1377 L858 1398 L862 1426 L845 1448 L848 1477 L828 1498 L833 1527 L820 1550 M975 958 L975 992 L955 1018 L957 1052 L933 1078 L937 1110 L915 1134 L916 1166 L894 1190 L896 1222 L877 1245 L881 1276 L860 1298 L864 1329 L841 1351 L840 1380 M1124 938 L1130 969 L1107 993 L1114 1024 L1095 1047 L1090 1080 L1063 1101 L1060 1135 L1040 1160 M635 939 L641 969 L622 994 L630 1023 L613 1051 L630 1075 L620 1103 L639 1127 L631 1155 L647 1177 L644 1210 L665 1235 L665 1267 L686 1291 L684 1324 L705 1348 L704 1378 L723 1401 L721 1431 L742 1453 L739 1483 L759 1505 L754 1536 L770 1560 M692 1029 L705 1061 L687 1089 L698 1120 L684 1150 L698 1176 L686 1203 L703 1227 L692 1254 L706 1278 L702 1307 L720 1329 L718 1356 L737 1378 L732 1407 L752 1428 L747 1457 L760 1480 M874 1050 L883 1076 L870 1102 L882 1129 L864 1153 L877 1182 L857 1207 L866 1238 L844 1262 L852 1293 L833 1319 L841 1347 L824 1370 L833 1398 L816 1422 L825 1450 L809 1473 L810 1500 M1113 1327 L1111 1362 L1088 1387 L1084 1424 L1056 1436 L1045 1465 L1014 1474 L1004 1504 L975 1521 L964 1554 L935 1571 L925 1603 L903 1623 L900 1652 L878 1673 L870 1700 M1044 1219 L1053 1248 L1037 1274 L1050 1303 L1035 1327 L1029 1358 L1005 1377 L999 1408 L980 1430 M1095 1518 L1093 1548 L1071 1570 L1070 1601 L1045 1621 L1047 1653 L1022 1675 L1021 1708 L997 1730 L995 1763 L973 1781 L970 1810 L949 1829 L949 1860 L925 1878 L923 1910 L899 1932 L899 1966 L876 1987 L850 2030 M1046 1496 L1038 1524 L1012 1536 L1006 1566 L975 1575 L965 1605 L935 1618 L935 1647 L913 1667 L917 1698 L894 1719 L903 1747 L887 1771 L894 1799 L876 1823 L880 1850 M1022 1559 L1035 1591 L1019 1620 L1028 1650 L1015 1678 L1016 1707 L994 1727 L997 1758 L980 1780 M913 1721 L931 1746 L920 1774 L930 1800 M738 1834 L780 1850" stroke-width="19" stroke="#333"/>
<path d="M794 1638l-16 0 M759 1568l16 -16 M726 1502l16 -16 M712 1474l16 -16 M681 1415l-16 0 M671 1395l16 -16 M633 1324l-16 0 M612 1284l-16 -0 M584 1225l-16 -0 M580 1216l16 -16 M540 1133l16 -16 M521 1093l-16 -0 M510 1072l-16 -0 M486 1023l-16 0 M451 952l16 -16 M449 947l-16 0 M413 875l16 -16 M398 846l-16 0 M356 767l16 -16 M341 739l-16 0 M308 668l17 -14 M297 636l17 -14 M283 597l17 -14 M268 521l-18 -7 M267 496l-18 -7 M264 437l-18 -7 M265 386l-18 -12 M280 324l18 -4 M290 275l18 -7 M295 199l-18 -9 M298 156l-18 -9 M347 351l-3 -26 M382 276l-16 -15 M269 416l-7 9 M220 383l-15 2 M265 491l-17 -3 M298 594l-17 -3 M315 637l17 -15 M339 697l-17 -1 M375 479l-16 1 M396 516l-16 1 M433 598l-17 -2 M442 625l17 -14 M450 650l-18 -7 M453 709l-18 -7 M448 803l18 -5 M443 830l18 -5 M455 880l-16 0 M370 900l-13 5 M380 910l-13 5 M421 951l-13 5 M457 988l-13 4 M514 1049l-13 4 M524 1061l-13 4 M565 1111l-16 -1 M581 1147l16 -15 M609 1211l16 -15 M625 1247l16 -15 M658 1325l-17 -1 M667 1348l-17 -1 M699 1428l17 -15 M705 1443l-17 -1 M738 1523l-17 -1 M740 1527l17 -15 M760 1574l17 -15 M404 1023l-11 6 M478 1079l-11 6 M512 1104l-11 6 M553 1147l13 -20 M597 1197l13 -20 M360 1140l-8 8 M451 1186l8 -24 M490 1211l-10 7 M553 1255l-10 7 M571 1274l14 -19 M605 1320l-14 3 M643 1370l14 -19 M659 1396l16 -17 M683 1439l-16 1 M699 1466l-16 1 M737 1535l16 -17 M433 1221l11 -22 M480 1258l-11 6 M527 1312l-17 -3 M536 1341l17 -13 M552 1395l17 -13 M580 1455l16 -17 M607 1503l-16 1 M621 1527l-16 1 M657 1579l-13 4 M694 1620l13 -20 M503 1487l9 -24 M565 1526l14 -19 M600 1573l-14 3 M630 1610l13 -21 M680 1660l13 -21 M729 1690l6 -25 M774 1705l6 -25 M637 1664l-9 8 M771 1726l6 -25 M633 459l-18 -7 M633 469l-18 -7 M637 524l18 -9 M641 569l18 -9 M646 650l-18 -7 M648 677l18 -9 M656 722l-17 -3 M674 789l17 -13 M678 805l-17 -3 M694 861l-17 -1 M717 917l17 -15 M734 960l-17 -1 M546 632l16 -15 M586 721l-16 -1 M602 759l-17 -1 M626 809l-15 1 M652 854l15 -17 M704 944l-16 1 M712 958l16 -17 M632 746l16 -17 M514 778l18 -5 M503 839l-18 -11 M521 895l-15 1 M560 959l-15 1 M566 979l17 -13 M577 1021l-17 -3 M592 1073l17 -13 M612 1143l-17 -3 M622 1182l-17 -3 M636 1236l17 -13 M659 1297l-17 -1 M678 1345l-17 -1 M682 1356l17 -15 M708 1420l-17 -1 M563 842l18 -11 M568 873l18 -11 M577 939l-18 -5 M581 965l-17 -4 M606 1064l17 -12 M741 467l-18 -6 M746 514l18 -10 M755 597l18 -10 M756 619l18 -9 M757 665l18 -9 M760 749l-18 -7 M761 766l-18 -7 M764 804l18 -9 M769 882l18 -9 M768 931l18 -7 M764 991l18 -7 M761 1028l18 -7 M758 1070l18 -6 M753 1119l18 -6 M749 1157l18 -6 M745 1202l18 -8 M747 1283l-18 -8 M748 1306l-18 -8 M749 1378l-18 -8 M756 1432l-18 -4 M766 1479l-18 -4 M774 1519l-18 -4 M784 1572l-18 -4 M809 559l18 -6 M802 631l-18 -10 M794 680l-18 -11 M778 765l-18 -11 M872 736l-18 -11 M866 767l18 -5 M858 806l-17 -13 M840 868l-17 -13 M817 925l16 0 M804 952l16 0 M919 765l-17 -12 M893 867l17 -4 M888 884l-16 -16 M1070 586l17 -3 M1065 604l17 -3 M1040 705l18 -5 M1038 716l-18 -11 M1024 774l17 -1 M996 844l17 -1 M988 862l-14 -20 M942 916l-14 -20 M925 936l-14 -20 M873 997l-14 -20 M868 1007l-17 -13 M854 1060l-17 -13 M835 1131l17 -3 M828 1166l18 -5 M821 1210l-18 -11 M814 1258l-18 -11 M802 1334l-18 -11 M800 1358l-18 -8 M800 1406l18 -8 M800 1482l-18 -8 M800 1548l-18 -8 M800 1578l18 -8 M962 840l-17 -14 M1203 623l-18 -12 M1197 647l-18 -12 M1190 715l-18 -8 M1190 760l18 -8 M1187 822l18 -6 M1179 881l18 -6 M1175 915l-18 -10 M1165 966l-17 -14 M1141 1037l17 -2 M1133 1061l-17 -14 M1104 1131l-16 -16 M1082 1171l-16 -16 M1043 1245l16 0 M1025 1274l15 1 M1009 1301l15 1 M963 1378l-15 -17 M948 1405l-16 -15 M915 1477l-16 -15 M892 1529l16 -1 M878 1560l-16 -15 M1156 623l16 -16 M1228 911l17 -3 M1217 944l-17 -13 M1212 961l17 -3 M1178 1044l-16 -16 M1165 1070l-16 -16 M1127 1139l16 1 M1112 1166l-16 -17 M1089 1204l-16 -17 M1064 1246l-15 -17 M1047 1274l15 1 M1025 1309l15 1 M990 1365l15 2 M971 1393l15 2 M950 1425l15 2 M921 1468l15 2 M890 1524l-17 -15 M864 1585l17 -1 M850 1617l17 -1 M1231 1061l14 4 M1180 1120l-14 -20 M1159 1149l14 3 M1139 1175l-14 -19 M1083 787l-18 -12 M1079 804l-18 -12 M1068 859l18 -4 M1056 916l17 -4 M1043 967l-17 -12 M1013 1058l-16 -15 M992 1107l-16 -15 M967 1163l-16 -15 M954 1193l16 -0 M938 1226l16 -0 M917 1272l16 -0 M883 1343l16 -0 M866 1397l-17 -13 M862 1410l-17 -13 M845 1466l17 -3 M829 1519l-17 -13 M971 988l17 -2 M943 1071l-17 -14 M924 1125l17 -2 M914 1153l-17 -14 M894 1210l-17 -14 M880 1253l17 -3 M864 1303l17 -3 M854 1334l17 -3 M1128 946l17 -3 M1110 1014l17 -3 M1079 1089l16 1 M1069 1107l16 1 M633 978l18 -5 M629 999l-18 -11 M622 1063l18 -11 M639 1172l-18 -5 M642 1185l17 -14 M658 1231l17 -14 M671 1266l17 -14 M697 1343l-17 -2 M708 1375l17 -14 M719 1408l17 -14 M740 1470l-17 -2 M760 1530l17 -14 M698 1051l-18 -9 M695 1093l-18 -9 M695 1209l-18 -7 M699 1270l18 -9 M712 1319l17 -13 M722 1352l17 -13 M735 1397l17 -13 M753 1457l17 -13 M876 1096l18 -7 M872 1152l-18 -9 M868 1188l18 -4 M855 1251l-18 -12 M842 1309l18 -4 M840 1320l-18 -11 M832 1369l18 -5 M818 1454l-18 -11 M810 1498l-18 -11 M1108 1356l16 -1 M1094 1388l16 -1 M1042 1458l13 5 M1020 1480l13 5 M962 1547l14 3 M940 1575l14 3 M904 1631l-16 -16 M893 1655l-16 -16 M1046 1269l18 -6 M1043 1298l18 -6 M1029 1349l-15 -17 M1002 1393l15 1 M1092 1536l16 -0 M1061 1604l16 -0 M1049 1630l16 -0 M1031 1669l-16 -15 M1002 1734l-16 -15 M970 1800l-16 -16 M955 1830l-16 -16 M913 1918l-16 -15 M891 1967l16 -1 M870 2003l14 3 M1025 1530l-14 -20 M982 1578l13 5 M926 1656l17 -1 M906 1706l-17 -15 M898 1730l-18 -11 M880 1847l-18 -11 M1025 1619l18 -7 M1024 1630l18 -7 M1016 1690l17 -1 M980 1779l-17 -15 M927 1779l-18 -6" stroke-width="11" stroke="#3a3a3a"/>
<path d="M793 1692 L761 1691 L744 1664 L711 1663 L693 1638 L661 1636 L641 1615 M790 1695 L762 1688 L749 1663 L720 1659 L708 1632 L681 1625 L669 1598 L639 1595 L628 1567 L598 1563 L583 1541 M815 1694 L787 1689 L782 1662 L757 1656 L750 1631 L726 1623 L720 1598 L694 1591 L689 1565 L661 1560 L652 1538 M800 1696 L775 1686 L774 1658 L750 1647 L748 1620 L721 1611 L720 1583 L693 1574 L693 1545 L667 1535 L659 1513 M822 1697 L799 1681 L799 1653 L774 1637 L777 1607 L752 1592 L752 1564 L727 1549 L729 1520 L705 1504 L699 1479 M782 1698 L761 1680 L767 1652 L745 1635 L751 1607 L729 1590 L734 1563 L710 1546 L718 1517 L695 1500 L694 1475 M793 1699 L777 1677 L786 1650 L765 1629 L775 1601 L755 1580 L762 1553 L745 1532 L746 1506 M832 1699 L812 1675 L826 1648 L811 1623 L824 1597 L808 1572 L820 1546 L804 1521 L816 1494 L799 1470 L805 1443 M791 1701 L776 1677 L792 1655 L778 1632 L797 1610 L782 1586 L800 1565 L786 1541 L803 1520 L790 1496 L798 1474 M817 1702 L808 1673 L828 1651 L817 1622 L837 1600 L829 1572 L848 1550 L840 1522 L860 1499 L852 1471 L863 1447 M789 1702 L785 1676 L806 1658 L801 1631 L823 1614 L816 1586 L838 1568 L833 1541 L848 1521 M791 1703 L792 1672 L818 1654 L817 1622 L843 1604 L845 1574 L864 1552 M791 1704 L794 1675 L821 1664 L822 1634 L849 1622 L852 1594 L880 1583 L882 1554 L903 1538 M804 1704 L809 1678 L837 1673 L843 1647 L867 1639 L873 1614 L900 1608 L905 1581 L926 1570 M804 1706 L815 1680 L842 1674 L854 1648 L883 1645 L894 1618 L922 1613 L933 1586 L962 1582 L973 1556 L997 1546 M800 1707 L816 1682 L845 1680 L860 1654 L889 1653 L906 1630 L935 1629 L949 1601 L981 1603 L996 1578 L1021 1570" stroke-width="17" stroke="#333"/>
<path d="M776 1700 L780 2110 L836 2110 L846 1700Z" fill="#fff" stroke="#333" stroke-width="11"/>
<rect x="780" y="1700" width="60" height="45" fill="#222" stroke="none"/>
<rect x="780" y="1775" width="60" height="40" fill="#222" stroke="none"/>
<rect x="780" y="1845" width="60" height="40" fill="#222" stroke="none"/>
<rect x="780" y="1925" width="60" height="40" fill="#222" stroke="none"/>
<rect x="780" y="2040" width="60" height="42" fill="#222" stroke="none"/>
<path d="M690 2140 L720 2120 L700 2095 M722 2122 L770 2115 M775 2115 Q800 2160 840 2118 M845 2116 L885 2110 L915 2130 M760 2125 L780 2150 L830 2150" stroke-width="9"/>
</g>
<g transform="translate(1490 400) scale(0.08696)" fill="none" stroke="#2b2b2b" stroke-linecap="butt">
<path d="M180 1998H995" stroke-width="36" stroke="#1a1a1a"/>
<path d="M445 1990 C452 1972 478 1918 490 1880 C502 1842 512 1807 520 1760 C528 1713 534 1660 540 1600 C546 1540 551 1467 555 1400 C559 1333 562 1262 565 1200 C568 1138 571 1087 575 1030 C579 973 583 912 590 860 C597 808 605 765 615 720 C625 675 638 632 650 590 C662 548 675 507 690 470 C705 433 722 401 740 370 C758 339 780 307 800 285 C820 263 838 250 860 240 C882 230 918 225 930 222" stroke-width="22" stroke="#222"/>
<path d="M340 1700H770 M340 1659L770 1741 M400 1741L710 1659 M340 1600H805 M340 1550L805 1650 M400 1650L745 1550 M340 1490H870 M340 1435L870 1545 M400 1545L810 1435 M340 1375H870 M340 1320L870 1430 M400 1430L810 1320 M340 1265H870 M340 1210L870 1320 M400 1320L810 1210 M340 1145H870 M340 1090L870 1200 M400 1200L810 1090 M340 1035H870 M340 980L870 1090 M400 1090L810 980 M340 915H870 M340 860L870 970 M400 970L810 860 M340 805H870 M340 750L870 860 M400 860L810 750 M410 690H865 M410 635L865 745 M470 745L805 635 M410 575H895 M410 520L895 630 M470 630L835 520 M480 460H930 M480 405L930 515 M540 515L870 405 M565 355H950 M565 306L950 404 M625 404L890 306 M672 272H1000 M672 234L1000 310 M732 310L940 234 M672 228L1005 315 M712 312L960 232" stroke-width="19"/>
</g>
<g transform="translate(1490 717) scale(0.08696)" fill="none" stroke="#2b2b2b" stroke-linecap="butt">
<path d="M180 1998H995" stroke-width="36" stroke="#1a1a1a"/>
<path d="M445 1990 C452 1972 478 1918 490 1880 C502 1842 512 1807 520 1760 C528 1713 534 1660 540 1600 C546 1540 551 1467 555 1400 C559 1333 562 1262 565 1200 C568 1138 571 1087 575 1030 C579 973 583 912 590 860 C597 808 605 765 615 720 C625 675 638 632 650 590 C662 548 675 507 690 470 C705 433 722 401 740 370 C758 339 780 307 800 285 C820 263 838 250 860 240 C882 230 918 225 930 222" stroke-width="22" stroke="#222"/>
<path d="M340 1700H770 M340 1659L770 1741 M400 1741L710 1659 M340 1600H805 M340 1550L805 1650 M400 1650L745 1550 M340 1490H870 M340 1435L870 1545 M400 1545L810 1435 M340 1375H870 M340 1320L870 1430 M400 1430L810 1320 M340 1265H870 M340 1210L870 1320 M400 1320L810 1210 M340 1145H870 M340 1090L870 1200 M400 1200L810 1090 M340 1035H870 M340 980L870 1090 M400 1090L810 980 M340 915H870 M340 860L870 970 M400 970L810 860 M340 805H870 M340 750L870 860 M400 860L810 750 M410 690H865 M410 635L865 745 M470 745L805 635 M410 575H895 M410 520L895 630 M470 630L835 520 M480 460H930 M480 405L930 515 M540 515L870 405 M565 355H950 M565 306L950 404 M625 404L890 306 M672 272H1000 M672 234L1000 310 M732 310L940 234 M672 228L1005 315 M712 312L960 232" stroke-width="19"/>
</g>
<g transform="translate(1486 1028.6) scale(0.08696)" fill="none" stroke="#2b2b2b" stroke-linecap="butt">
<path d="M180 1998H995" stroke-width="36" stroke="#1a1a1a"/>
<path d="M445 1990 C452 1972 478 1918 490 1880 C502 1842 512 1807 520 1760 C528 1713 534 1660 540 1600 C546 1540 551 1467 555 1400 C559 1333 562 1262 565 1200 C568 1138 571 1087 575 1030 C579 973 583 912 590 860 C597 808 605 765 615 720 C625 675 638 632 650 590 C662 548 675 507 690 470 C705 433 722 401 740 370 C758 339 780 307 800 285 C820 263 838 250 860 240 C882 230 918 225 930 222" stroke-width="22" stroke="#222"/>
<path d="M340 1700H770 M340 1659L770 1741 M400 1741L710 1659 M340 1600H805 M340 1550L805 1650 M400 1650L745 1550 M340 1490H870 M340 1435L870 1545 M400 1545L810 1435 M340 1375H870 M340 1320L870 1430 M400 1430L810 1320 M340 1265H870 M340 1210L870 1320 M400 1320L810 1210 M340 1145H870 M340 1090L870 1200 M400 1200L810 1090 M340 1035H870 M340 980L870 1090 M400 1090L810 980 M340 915H870 M340 860L870 970 M400 970L810 860 M340 805H870 M340 750L870 860 M400 860L810 750 M410 690H865 M410 635L865 745 M470 745L805 635 M410 575H895 M410 520L895 630 M470 630L835 520 M480 460H930 M480 405L930 515 M540 515L870 405 M565 355H950 M565 306L950 404 M625 404L890 306 M672 272H1000 M672 234L1000 310 M732 310L940 234 M672 228L1005 315 M712 312L960 232" stroke-width="19"/>
</g>
<g transform="translate(1440 1350) scale(0.09320)" fill="none" stroke="#2b2b2b" stroke-linecap="butt">
<path d="M470 1978H1062" stroke-width="36" stroke="#1a1a1a"/>
<path d="M665 1975 C670 1954 686 1892 695 1850 C704 1808 711 1768 718 1720 C725 1672 731 1613 735 1560 C739 1507 740 1460 742 1400 C744 1340 745 1267 747 1200 C749 1133 751 1062 755 1000 C759 938 763 883 770 830 C777 777 785 732 795 680 C805 628 818 567 830 520 C842 473 856 437 870 400 C884 363 900 327 915 300 C930 273 942 254 960 240 C978 226 1010 219 1020 215" stroke-width="18" stroke="#222"/>
<path d="M750 925 L685 855 L560 715 L455 560 L370 430 L295 280 L290 190 M745 1275 L830 1190 L975 1075 L1130 965 L1265 880 L1400 805 L1505 800" stroke-width="18" stroke="#222"/>
<path d="M511 902L834 815 M588 979L787 724 M674 702L696 1007 M385 762L722 672 M445 862L669 576 M547 524L572 880 M303 601L604 520 M365 675L551 437 M444 402L466 723 M237 466L525 388 M274 553L455 321 M361 297L380 573 M192 308L400 252 M219 378L361 196 M286 149L302 386 M647 1174L989 1204 M728 1059L929 1316 M865 1027L797 1346 M823 1062L1125 1088 M863 931L1078 1207 M1012 899L944 1223 M972 951L1290 979 M1035 844L1219 1079 M1164 803L1095 1128 M1120 867L1384 890 M1192 787L1350 988 M1294 746L1239 1000 M1283 795L1522 816 M1332 718L1463 885 M1426 683L1379 902 M585 1690H910 M585 1640L910 1745 M625 1745L880 1635 M590 1590H930 M590 1540L930 1645 M630 1645L900 1535 M590 1470H975 M590 1420L975 1525 M630 1525L945 1415 M590 1355H880 M590 1305L880 1410 M630 1410L850 1300 M586 1190L746 1250 M596 1240L746 1250 M590 1090L750 1150 M600 1140L750 1150 M790 860H985 M800 815L980 910 M830 910L965 810 M800 745H995 M810 700L990 795 M840 795L975 695 M700 640H990 M710 595L985 690 M740 690L970 590 M680 560H995 M690 515L990 610 M720 610L975 510 M690 440H1020 M700 395L1015 490 M730 490L1000 390 M755 350H1030 M765 305L1025 400 M795 400L1010 300 M830 268H1070 M840 223L1065 318 M870 318L1050 218" stroke-width="18"/>
</g>
<g transform="translate(1480 1640) scale(0.08263)" fill="none" stroke="#222" stroke-linecap="round" stroke-linejoin="round">
<path d="M270 2003H1220" stroke-width="36" stroke="#1a1a1a" stroke-linecap="butt"/>
<path d="M795 1992 C740 1960 700 1880 700 1690 M700 1690 L555 1300 M700 1690 L960 1290 M555 1300 L460 790 M555 1300 L705 790 M960 1290 L860 780 M960 1290 L1125 770 M460 790 C410 700 400 500 398 220 M460 790 C495 650 505 450 508 220 M705 790 C665 650 658 450 655 220 M705 790 C745 620 750 420 752 220 M860 780 C825 650 818 450 815 220 M860 780 C900 600 910 420 915 220 M1125 770 C1080 650 1068 450 1065 220 M1125 770 C1165 640 1170 450 1172 220" stroke-width="25"/>
</g>
<g transform="translate(1480 1940) scale(0.1)" fill="none" stroke="#222" stroke-linecap="butt">
<path d="M295 2105H935" stroke-width="32" stroke="#1a1a1a"/>
<path d="M455 2095 C462 2081 484 2046 495 2010 C506 1974 513 1932 520 1880 C527 1828 531 1763 535 1700 C539 1637 542 1567 545 1500 C548 1433 552 1367 555 1300 C558 1233 561 1167 565 1100 C569 1033 574 960 580 900 C586 840 592 793 600 740 C608 687 618 637 630 580 C642 523 658 451 675 400 C692 349 712 305 730 275 C748 245 763 234 780 220 C797 206 822 193 830 188" stroke-width="23"/>
<ellipse cx="770" cy="285" rx="64" ry="31" stroke-width="15" stroke="#2a2a2a"/>
<ellipse cx="708" cy="405" rx="64" ry="31" stroke-width="15" stroke="#2a2a2a"/>
<ellipse cx="638" cy="530" rx="64" ry="31" stroke-width="15" stroke="#2a2a2a"/>
<ellipse cx="638" cy="655" rx="64" ry="31" stroke-width="15" stroke="#2a2a2a"/>
<ellipse cx="600" cy="780" rx="64" ry="31" stroke-width="15" stroke="#2a2a2a"/>
<ellipse cx="572" cy="900" rx="64" ry="31" stroke-width="15" stroke="#2a2a2a"/>
<ellipse cx="572" cy="1012" rx="64" ry="31" stroke-width="15" stroke="#2a2a2a"/>
<ellipse cx="572" cy="1132" rx="64" ry="31" stroke-width="15" stroke="#2a2a2a"/>
<ellipse cx="570" cy="1260" rx="64" ry="31" stroke-width="15" stroke="#2a2a2a"/>
<ellipse cx="568" cy="1390" rx="64" ry="31" stroke-width="15" stroke="#2a2a2a"/>
<ellipse cx="568" cy="1515" rx="64" ry="31" stroke-width="15" stroke="#2a2a2a"/>
<ellipse cx="570" cy="1640" rx="64" ry="31" stroke-width="15" stroke="#2a2a2a"/>
<ellipse cx="565" cy="1762" rx="64" ry="31" stroke-width="15" stroke="#2a2a2a"/>
</g>
</svg>
</body></html>
